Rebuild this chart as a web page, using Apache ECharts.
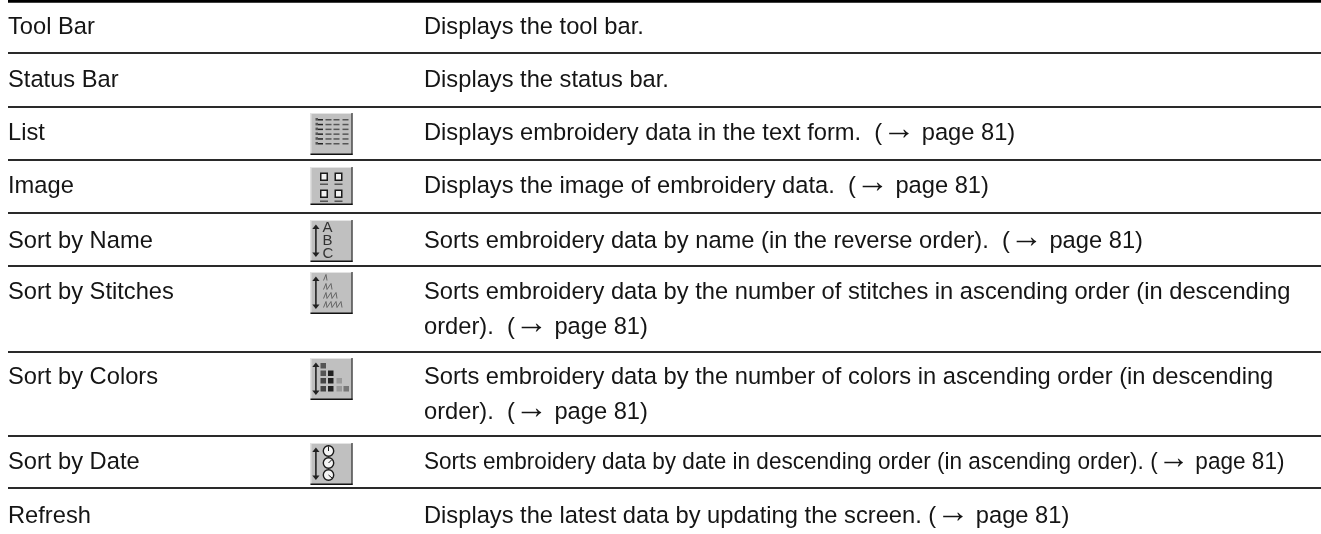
<!DOCTYPE html>
<html>
<head>
<meta charset="utf-8">
<style>
  html, body { margin: 0; padding: 0; background: #fff; }
  #main { width: 1321px; height: 534px; }
</style>
<script src="https://cdn.jsdelivr.net/npm/echarts@6/dist/echarts.min.js"></script>
</head>
<body>
<div id="main"></div>
<script>
const commandNames = ["Tool Bar", "Status Bar", "List", "Image", "Sort by Name", "Sort by Stitches", "Sort by Colors", "Sort by Date", "Refresh"];
const commandTexts = [
  ["Displays the tool bar."],
  ["Displays the status bar."],
  ["Displays embroidery data in the text form.  (\u2192 page 81)"],
  ["Displays the image of embroidery data.  (\u2192 page 81)"],
  ["Sorts embroidery data by name (in the reverse order).  (\u2192 page 81)"],
  ["Sorts embroidery data by the number of stitches in ascending order (in descending", "order).  (\u2192 page 81)"],
  ["Sorts embroidery data by the number of colors in ascending order (in descending", "order).  (\u2192 page 81)"],
  ["Sorts embroidery data by date in descending order (in ascending order). (\u2192 page 81)"],
  ["Displays the latest data by updating the screen. (\u2192 page 81)"]
];
const commandIcons = [null, null, "list", "image", "name", "stitches", "colors", "date", null];

// layout, in page pixels (the axes below run 1:1 with the page)
const ruleYs = [1.2, 53, 107, 160, 213, 266, 352, 436, 488];
const rowTextYs = [27, 80, 133, 186, 241, 292, 377, 462, 516];
const iconTops = [0, 0, 113, 167, 220, 272, 358, 443, 0];
const iconHeights = [0, 0, 42, 38, 42, 42, 42, 42, 0];
const rowSquash = [1, 1, 1, 1, 1, 1, 1, 0.9525, 1];
const ruleStart = 8;
const nameX = 8;
const textX = 424;
const iconX = 310.5;
const iconW = 42;
const lineGap = 35.5;
const fontFamily = '"Liberation Sans", Arial, sans-serif';
const fontSize = 23.7;
const inkColor = "#151515";

// icon drawing, local units are pixels from the button's top left
function sortArrow(d) {
  d.rect(4.6, 8, 1.6, 26, "#222");
  d.poly([[5.4, 4.5], [9, 9], [1.8, 9]], "#222");
  d.poly([[5.4, 37], [9, 32.5], [1.8, 32.5]], "#222");
}

const iconParts = {
  list(d) {
    for (let i = 0; i < 6; i++) {
      const y = 6 + i * 4.8;
      d.rect(5, y - 1, 2.5, 2.6, "#555");
      d.rect(7.5, y, 5, 1.5, "#222");
      [15, 23, 32].forEach((x) => d.rect(x, y, 6, 1.5, "#555"));
    }
  },
  image(d) {
    [[9.5, 5.5], [24, 5.5], [9.5, 22.5], [24, 22.5]].forEach(([x, y]) => {
      d.rect(x, y, 8, 8.5, "#1a1a1a");
      d.rect(x + 1.5, y + 1.5, 5, 5.5, "#f2f2f2");
      d.rect(x, y + 11, 8, 1.5, "#555");
    });
  },
  name(d) {
    sortArrow(d);
    d.text("A", 12, 8);
    d.text("B", 12, 21);
    d.text("C", 12, 34);
  },
  stitches(d) {
    sortArrow(d);
    [1, 2, 3, 4].forEach((n, row) => {
      const y = 2.5 + row * 9;
      const pts = [[13, y + 6]];
      for (let k = 0; k < n; k++) {
        pts.push([15.5 + k * 5, y], [16.5 + k * 5, y + 6]);
        if (k < n - 1) pts.push([16.5 + k * 5, y + 6]);
      }
      d.zig(pts, "#666");
    });
  },
  colors(d) {
    sortArrow(d);
    const colX = [10, 17.5, 26, 33];
    const rowY = [5, 12.5, 20, 28];
    [["#555"], ["#555", "#222"], ["#444", "#222", "#999"], ["#444", "#222", "#999", "#777"]].forEach((shades, r) => {
      shades.forEach((c, k) => d.rect(colX[k], rowY[r], 5.5, 5.5, c));
    });
  },
  date(d) {
    sortArrow(d);
    [[8, 0, -4.5], [20, 3, -3], [32, 3.5, 3]].forEach(([cy, hx, hy]) => {
      d.circle(18, cy, 5.2, "#f4f4f4", "#1a1a1a");
      d.zig([[18, cy], [18 + hx, cy + hy]], "#1a1a1a");
    });
  }
};

function renderRules(params, api) {
  const a = api.coord([ruleStart, api.value(0)]);
  const b = api.coord([1321, api.value(0)]);
  const thick = params.dataIndex === 0;
  return {
    type: "line",
    shape: { x1: a[0], y1: a[1], x2: b[0], y2: b[1] },
    style: { stroke: thick ? "#000" : "#2a2a2a", lineWidth: thick ? 3 : 2 }
  };
}

function textEl(line, at, squash) {
  const parts = line.split("\u2192");
  return {
    type: "text",
    x: at[0],
    y: at[1],
    scaleX: squash,
    style: {
      text: parts.length > 1 ? parts[0] + "{a|\u2192}" + parts[1] : line,
      fontFamily,
      fontSize,
      fill: inkColor,
      verticalAlign: "middle",
      rich: { a: { fontFamily, fontSize: 33, fill: inkColor, padding: [0, 0, 7, 0] } }
    }
  };
}

function renderTexts(params, api) {
  const i = params.dataIndex;
  const top = rowTextYs[i];
  const children = [textEl(commandNames[i], api.coord([nameX, top]), 1)];
  commandTexts[i].forEach((line, k) => {
    children.push(textEl(line, api.coord([textX, top + k * lineGap]), rowSquash[i]));
  });
  return { type: "group", children };
}

function renderIcon(params, api) {
  const i = params.dataIndex;
  const key = commandIcons[i];
  if (!key) return null;
  const [ox, oy] = api.coord([iconX, iconTops[i]]);
  const h = iconHeights[i];
  const children = [];
  const d = {
    rect: (x, y, w, hh, c) => children.push({ type: "rect", shape: { x: ox + x, y: oy + y, width: w, height: hh }, style: { fill: c } }),
    poly: (pts, c) => children.push({ type: "polygon", shape: { points: pts.map(([x, y]) => [ox + x, oy + y]) }, style: { fill: c } }),
    zig: (pts, c) => children.push({ type: "polyline", shape: { points: pts.map(([x, y]) => [ox + x, oy + y]) }, style: { stroke: c, fill: null, lineWidth: 1 } }),
    circle: (x, y, r, fill, stroke) => children.push({ type: "circle", shape: { cx: ox + x, cy: oy + y, r }, style: { fill, stroke, lineWidth: 1.4 } }),
    text: (s, x, y) => children.push({ type: "text", x: ox + x, y: oy + y, style: { text: s, fontFamily, fontSize: 15, fill: "#333", verticalAlign: "middle" } })
  };
  d.rect(0, 0, iconW, h, "#c0c0c0");
  d.rect(0, 0, iconW, 1, "#e4e4e4");
  d.rect(0, 0, 1, h, "#e4e4e4");
  d.rect(iconW - 1, 0, 1, h, "#111");
  d.rect(0, h - 1.5, iconW, 1.5, "#111");
  iconParts[key](d);
  return { type: "group", children };
}

const chart = echarts.init(document.getElementById("main"));
chart.setOption({
  animation: false,
  grid: { left: 0, right: 0, top: 0, bottom: 0 },
  xAxis: { type: "value", min: 0, max: 1321, show: false },
  yAxis: { type: "value", min: 0, max: 534, inverse: true, show: false },
  series: [
    { type: "custom", renderItem: renderRules, data: ruleYs.map((y) => [y]), encode: { y: 0 }, silent: true, clip: false },
    { type: "custom", renderItem: renderTexts, data: rowTextYs.map((y) => [y]), encode: { y: 0 }, silent: true, clip: false },
    { type: "custom", renderItem: renderIcon, data: iconTops.map((y) => [y]), encode: { y: 0 }, silent: true, clip: false }
  ]
});
</script>
</body>
</html>
